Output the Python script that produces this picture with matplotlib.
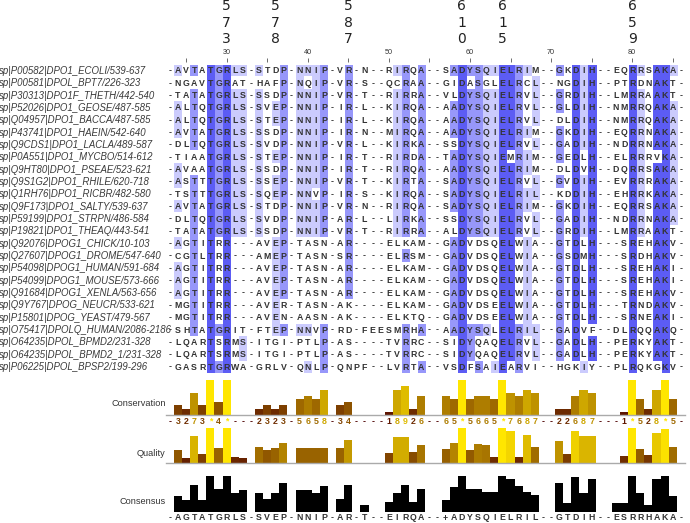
import matplotlib
matplotlib.use('Agg')
import matplotlib.pyplot as plt
import numpy as np
from collections import Counter
from matplotlib.transforms import blended_transform_factory

# alignment window: columns 23..86
first_col = 23

names = [
    "sp|P00582|DPO1_ECOLI/539-637",
    "sp|P00581|DPOL_BPT7/226-323",
    "sp|P30313|DPO1F_THETH/442-540",
    "sp|P52026|DPO1_GEOSE/487-585",
    "sp|Q04957|DPO1_BACCA/487-585",
    "sp|P43741|DPO1_HAEIN/542-640",
    "sp|Q9CDS1|DPO1_LACLA/489-587",
    "sp|P0A551|DPO1_MYCBO/514-612",
    "sp|Q9HT80|DPO1_PSEAE/523-621",
    "sp|Q9S1G2|DPO1_RHILE/620-718",
    "sp|Q1RH76|DPO1_RICBR/482-580",
    "sp|Q9F173|DPO1_SALTY/539-637",
    "sp|P59199|DPO1_STRPN/486-584",
    "sp|P19821|DPO1_THEAQ/443-541",
    "sp|Q92076|DPOG1_CHICK/10-103",
    "sp|Q27607|DPOG1_DROME/547-640",
    "sp|P54098|DPOG1_HUMAN/591-684",
    "sp|P54099|DPOG1_MOUSE/573-666",
    "sp|Q91684|DPOG1_XENLA/563-656",
    "sp|Q9Y767|DPOG_NEUCR/533-621",
    "sp|P15801|DPOG_YEAST/479-567",
    "sp|O75417|DPOLQ_HUMAN/2086-2186",
    "sp|O64235|DPOL_BPMD2/231-328",
    "sp|O64235|DPOL_BPMD2_1/231-328",
    "sp|P06225|DPOL_BPSP2/199-296",
]

seqs = [
    "-AVTATGRLS-STDP-NNIP-VR-N--RIRQA--SADYSQIELRIM--GKDIH--EQRRSAKA-",
    "-NGAVTGRAT-HAFP-NQIP-VR-S--QCRAA--GIDASGLELRCL--NGDIH--PTRDNAKT-",
    "-TATATGRLS-SSDP-NNIP-VR-T--RIRRA--VLDYSQIELRVL--GRDIH--LMRRAAKT-",
    "-ALTQTGRLS-SVEP-NNIP-IR-L--KIRQA--AADYSQIELRVL--GLDIH--NMRRQAKA-",
    "-ALTQTGRLS-STEP-NNIP-IR-L--KIRQA--AADYSQIELRVL--DLDIH--NMRRQAKA-",
    "-AVTATGRLS-SSDP-NNIP-IR-N--MIRQA--AADYSQIELRIM--GKDIH--EQRRNAKA-",
    "-DLTQTGRLS-SVDP-NNIP-VR-L--KIRKA--SSDYSQIELRVL--GADIH--NDRRNAKA-",
    "-TIAATGRLS-STEP-NNIP-IR-T--RIRDA--TADYSQIEMRIM--GEDLH--ELRRRVKA-",
    "-AVAATGRLS-SSDP-NNIP-IR-T--RIRQA--AADYSQIELRIM--DLDVH--DQRRSAKA-",
    "-ASTTTGRLS-SSEP-NNIP-VR-T--KIRTA--SADYSQIELRVL--GVDIH--EVRRRAKA-",
    "-TSTTTGRLS-SQEP-NNVP-IR-S--KIRQA--SADYSQIELRIL--KDDIH--EHRRKAKA-",
    "-AVTATGRLS-STDP-NNIP-VR-N--RIRQA--SADYSQIELRIM--GKDIH--EQRRSAKA-",
    "-DLTQTGRLS-SVDP-NNIP-AR-L--LIRKA--SSDYSQIELRVL--GADIH--NDRRNAKA-",
    "-TATATGRLS-SSDP-NNIP-VR-T--RIRRA--ALDYSQIELRVL--GRDIH--LMRRAAKT-",
    "-AGTITRR---AVEP-TASN-AR----ELKAM--GADVDSQELWIA--GTDLH---SREHAKV-",
    "-CGTLTRR---AMEP-TASN-SR----ELRSM--GADVDSQELWIA--GSDMH---SRDHAKV-",
    "-AGTITRR---AVEP-TASN-AR----ELKAM--GADVDSQELWIA--GTDLH---SREHAKI-",
    "-AGTITRR---AVEP-TASN-AR----ELKAM--GADVDSQELWIA--GTDLH---SREHAKI-",
    "-AGTITRR---AVEP-TASN-AR----ELKAM--GADVDSQELWIA--GTDLH---SREHAKV-",
    "-MGTITRR---AVER-TASN-AK----ELKAM--GADVDSEELWIA--GTDLH---TRNDAKV-",
    "-MGTITRR---AVEN-AASN-AK----ELKTQ--GADVDSEELWIA--GTDLH---SRNEAKI-",
    "-SHTATGRIT-FTEP-NNVP-RD-FEESMRHA--AADYSQLELRIL--GADVF--DLRQQAKQ-",
    "-LQARTSRMS-ITGI-PTLP-AS----TVRRC--SIDYQAQELRVL--GADLH--PERKYAKT-",
    "-LQARTSRMS-ITGI-PTLP-AS----TVRRC--SIDYQAQELRVL--GADLH--PERKYAKT-",
    "-GASRTGRWA-GRLV-QNLP-QNPF--LVRTA--VSDFSAIEARVI--HGKIY--PLRQKGKV-",
]

# conservation score per column (* = 11)
conservation = "-3273*4*---2323-5658-34----18926--65*5665*7687--22687---1*528*5-"

# alignment quality, fraction of maximum, columns 23..86
quality = [0, 0.38, 0.14, 0.78, 0.27, 1.0, 0.43, 1.0, 0.17, 0.15,
           0, 0.48, 0.38, 0.43, 0.57, 0, 0.43, 0.43, 0.43, 0.45,
           0, 0.43, 0.67, 0.02, 0, 0.02, 0.02, 0.30, 0.75, 0.75,
           0.33, 0.51, 0, 0, 0.42, 0.58, 1.0, 0.39, 0.54, 0.51,
           0.19, 1.0, 0.93, 0.17, 0.82, 0.47, 0, 0, 0.64, 0.26,
           0.91, 0.79, 0.79, 0, 0, 0, 0.20, 1.0, 0.40, 0.23,
           0.87, 0.98, 0.47, 0]

# residue numbers written above some columns
marks = {30: "573", 36: "578", 45: "587", 59: "610", 64: "615", 80: "659"}
ruler = [30, 40, 50, 60, 70, 80]

W, H = 690, 523
ncols = len(seqs[0])
cols = np.arange(first_col, first_col + ncols)
nrows = len(seqs)

# percent identity colouring (above 80, 60, 40 %)
pid_cols = ["#5c5cf4", "#9797fa", "#cbcbfd"]
max_res = []
pid = []
for j in range(ncols):
    column = [s[j] for s in seqs]
    counts = Counter(c for c in column if c.isalpha())
    best, res = 0, ""
    for aa in sorted(counts):
        n = counts[aa]
        if n < 2 or n < best:
            continue
        res = aa if n > best else res + aa
        best = n
    max_res.append(res if res else "-")
    pid.append(best * 100.0 / nrows)

shade = np.ones((nrows, ncols, 3))
for i, s in enumerate(seqs):
    for j, c in enumerate(s):
        if c.isalpha() and c in max_res[j]:
            for t, col in zip((80, 60, 40), pid_cols):
                if pid[j] > t:
                    shade[i, j] = matplotlib.colors.to_rgb(col)
                    break

consensus = ["+" if len(r) > 1 else r for r in max_res]


def grad(p):
    return (0.3 + 0.7 * p, 0.9 * p, 0.0)


def fy(px):
    return 1 - px / H


fig = plt.figure(figsize=(W / 100, H / 100), dpi=100)
fig.patch.set_facecolor("white")
plt.rcParams['font.family'] = ['Liberation Sans', 'DejaVu Sans']

x0 = 165.8 / W
xw = 519.1 / W

# ---- alignment panel
ax = fig.add_axes([x0, fy(373.2), xw, 308.4 / H])
ax.imshow(shade, extent=(first_col - 0.5, first_col + ncols - 0.5, nrows + 0.5, 0.5),
          aspect='auto', interpolation='nearest')
ax.set_xlim(first_col - 0.5, first_col + ncols - 0.5)
ax.set_ylim(nrows + 0.5, 0.5)
ax.axis('off')
for i, s in enumerate(seqs):
    for j, c in enumerate(s):
        ax.text(cols[j], i + 1, c, ha='center', va='center', fontsize=6.3,
                fontweight='bold', color='#333333')

# names
tn = blended_transform_factory(fig.transFigure, ax.transData)
for i, n in enumerate(names):
    ax.text(-1 / W, i + 1, n, transform=tn, ha='left', va='center', fontsize=6.9,
            style='italic', color='#3a3a3a')

# ruler and marked residue numbers
tr = blended_transform_factory(ax.transData, fig.transFigure)
for c in ruler:
    ax.text(c, fy(52), str(c), transform=tr, ha='center', va='center',
            fontsize=5.2, color='#333333')
tick_cols = [c for c in cols if c % 5 == 0]
ax.scatter(tick_cols, [fy(59.5)] * len(tick_cols), transform=tr, marker='|',
           s=5, color='#555555', linewidths=0.6, clip_on=False)
for c, num in marks.items():
    for k, d in enumerate(num):
        ax.text(c, fy(6 + 16.6 * k), d, transform=tr, ha='center', va='center',
                fontsize=10, family='DejaVu Sans', color='#222222')

# ---- conservation
cons_val = np.array([11 if ch == '*' else (int(ch) if ch.isdigit() else 0)
                     for ch in conservation])
axc = fig.add_axes([x0, fy(415), xw, 35 / H])
axc.bar(cols, cons_val, width=1.0, color=[grad(v / 11) for v in cons_val])
axc.axhline(0, color='#aaaaaa', lw=1, clip_on=False)
axc.set_xlim(first_col - 0.5, first_col + ncols - 0.5)
axc.set_ylim(0, 11)
axc.axis('off')
tc = blended_transform_factory(axc.transData, fig.transFigure)
for c, ch, v in zip(cols, conservation, cons_val):
    axc.text(c, fy(421.5), ch, transform=tc, ha='center', va='center',
             fontsize=6.3, fontweight='bold', color=grad(v / 11))

# ---- quality
axq = fig.add_axes([x0, fy(463.3), xw, 35 / H])
axq.bar(cols, quality, width=1.0, color=[grad(v) for v in quality])
axq.axhline(0, color='#aaaaaa', lw=1, clip_on=False)
axq.set_xlim(first_col - 0.5, first_col + ncols - 0.5)
axq.set_ylim(0, 1)
axq.axis('off')

# ---- consensus
axs = fig.add_axes([x0, fy(511.7), xw, 35.7 / H])
axs.bar(cols, pid, width=1.0, color='black')
axs.set_xlim(first_col - 0.5, first_col + ncols - 0.5)
axs.set_ylim(0, 100)
axs.axis('off')
ts = blended_transform_factory(axs.transData, fig.transFigure)
for c, ch in zip(cols, consensus):
    axs.text(c, fy(518), ch, transform=ts, ha='center', va='center',
             fontsize=6.3, fontweight='bold', color='#333333')

# annotation labels
for label, ypx in [("Conservation", 404), ("Quality", 453), ("Consensus", 501)]:
    fig.text(165.5 / W, fy(ypx), label, ha='right', va='center', fontsize=6.6,
             color='#333333')

fig.savefig("out.png", dpi=100)
